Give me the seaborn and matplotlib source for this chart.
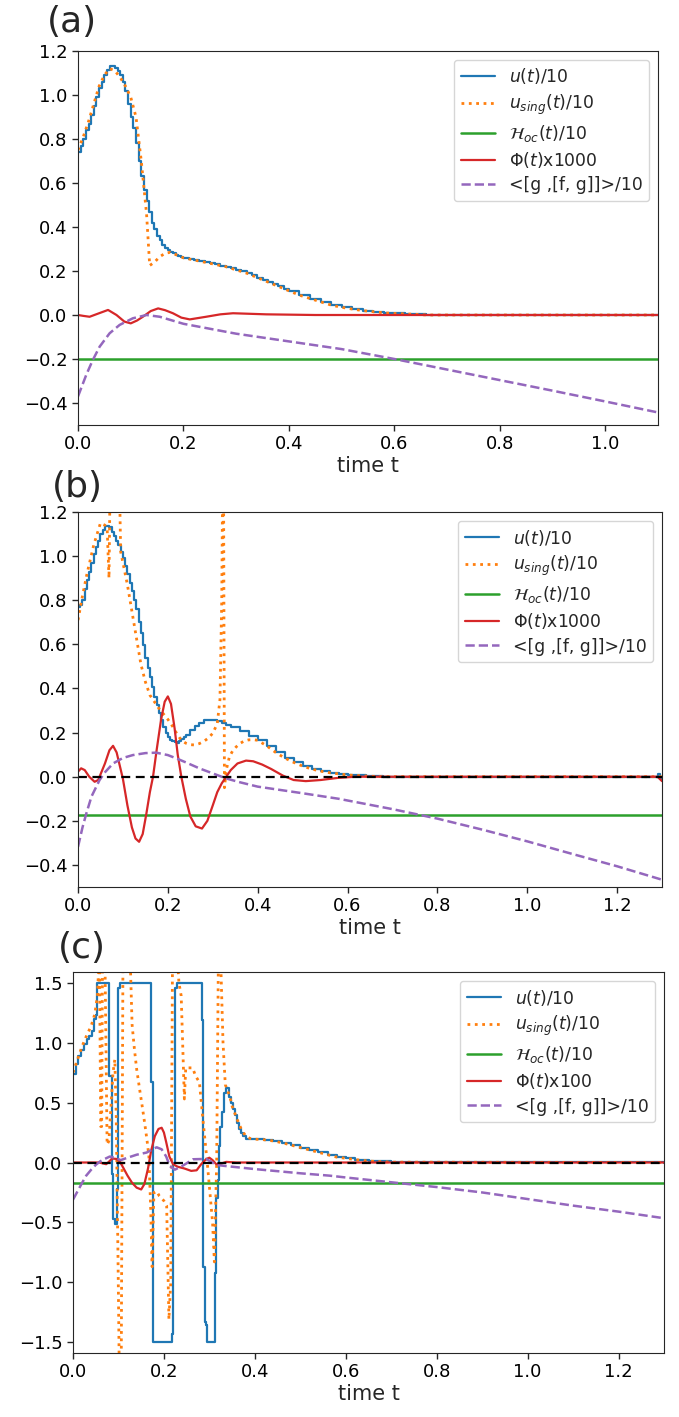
import matplotlib
matplotlib.use("Agg")
import matplotlib.pyplot as plt
import seaborn as sns

# ---------------------------------------------------------------- panel (a)
a_u_t = [0.000, 0.005, 0.010, 0.015, 0.020, 0.025, 0.030, 0.035, 0.040, 0.045,
         0.050, 0.055, 0.060, 0.065, 0.070, 0.075, 0.080, 0.085, 0.090, 0.095,
         0.100, 0.105, 0.110, 0.115, 0.120, 0.125, 0.130, 0.135, 0.140, 0.145,
         0.150, 0.155, 0.160, 0.165, 0.170, 0.175, 0.180, 0.185, 0.190, 0.195,
         0.200, 0.21, 0.22, 0.23, 0.24, 0.25, 0.26, 0.27, 0.28, 0.29, 0.30,
         0.31, 0.32, 0.33, 0.34, 0.35, 0.36, 0.37, 0.38, 0.39, 0.40, 0.42,
         0.44, 0.46, 0.48, 0.50, 0.52, 0.54, 0.56, 0.58, 0.60, 0.62, 0.64,
         0.66, 1.10]
a_u_v = [0.74, 0.77, 0.80, 0.84, 0.87, 0.91, 0.95, 0.99, 1.03, 1.06,
         1.09, 1.115, 1.13, 1.133, 1.125, 1.11, 1.09, 1.06, 1.02, 0.96,
         0.90, 0.85, 0.78, 0.70, 0.63, 0.57, 0.52, 0.47, 0.42, 0.39,
         0.36, 0.34, 0.32, 0.305, 0.295, 0.287, 0.28, 0.275, 0.27, 0.265,
         0.26, 0.255, 0.25, 0.245, 0.24, 0.235, 0.23, 0.225, 0.22, 0.213, 0.205,
         0.198, 0.19, 0.18, 0.17, 0.16, 0.15, 0.14, 0.13, 0.12, 0.11, 0.09,
         0.075, 0.06, 0.045, 0.035, 0.027, 0.02, 0.015, 0.01, 0.007, 0.005, 0.003,
         0.0, 0.0]

a_us_t = [0.00, 0.01, 0.02, 0.03, 0.04, 0.05, 0.06, 0.07, 0.08, 0.09, 0.10,
          0.11, 0.12, 0.13, 0.136, 0.145, 0.155, 0.165, 0.175, 0.19, 0.20,
          0.22, 0.24, 0.26, 0.28, 0.30, 0.32, 0.34, 0.36, 0.38, 0.40, 0.42,
          0.44, 0.46, 0.48, 0.50, 0.52, 0.54, 0.56, 0.58, 0.60, 0.62, 0.64, 0.66, 1.10]
a_us_v = [0.75, 0.81, 0.88, 0.96, 1.04, 1.09, 1.12, 1.11, 1.08, 1.04, 0.99,
          0.90, 0.70, 0.46, 0.225, 0.24, 0.265, 0.28, 0.285, 0.27, 0.26,
          0.25, 0.24, 0.23, 0.22, 0.205, 0.19, 0.17, 0.15, 0.13, 0.11, 0.09,
          0.075, 0.06, 0.045, 0.035, 0.027, 0.02, 0.015, 0.01, 0.007, 0.005, 0.003, 0.0, 0.0]

a_h_t = [0.0, 1.1]
a_h_v = [-0.2, -0.2]

a_phi_t = [0.00, 0.01, 0.022, 0.04, 0.057, 0.073, 0.088, 0.10, 0.112, 0.123,
           0.138, 0.152, 0.165, 0.18, 0.196, 0.212, 0.243, 0.27, 0.294, 0.357,
           0.45, 0.60, 1.10]
a_phi_v = [0.0, -0.004, -0.008, 0.008, 0.023, 0.0, -0.03, -0.038, -0.025, -0.008,
           0.018, 0.03, 0.022, 0.008, -0.012, -0.02, -0.008, 0.003, 0.008, 0.003,
           0.0, 0.0, 0.0]

a_gfg_t = [0.00, 0.016, 0.028, 0.041, 0.06, 0.079, 0.104, 0.13, 0.155, 0.20,
           0.30, 0.40, 0.50, 0.60, 0.70, 0.80, 0.90, 1.00, 1.10]
a_gfg_v = [-0.37, -0.27, -0.205, -0.144, -0.083, -0.045, -0.015, 0.0, -0.008,
           -0.04, -0.085, -0.12, -0.155, -0.20, -0.248, -0.296, -0.344, -0.393, -0.443]

# ---------------------------------------------------------------- panel (b)
b_u_t = [0.000, 0.005, 0.010, 0.015, 0.020, 0.025, 0.030, 0.035, 0.040, 0.045,
         0.050, 0.055, 0.060, 0.065, 0.070, 0.075, 0.080, 0.085, 0.090, 0.095,
         0.100, 0.105, 0.110, 0.115, 0.120, 0.125, 0.130, 0.135, 0.140, 0.145,
         0.150, 0.155, 0.160, 0.165, 0.170, 0.175, 0.180, 0.185, 0.190, 0.195,
         0.200, 0.205, 0.210, 0.215, 0.220, 0.225, 0.230, 0.235, 0.240, 0.25,
         0.26, 0.27, 0.28, 0.29, 0.30, 0.31, 0.32, 0.33, 0.34, 0.36, 0.38,
         0.40, 0.42, 0.44, 0.46, 0.48, 0.50, 0.52, 0.54, 0.56, 0.58, 0.60,
         0.64, 0.68, 1.28, 1.29, 1.295, 1.30]
b_u_v = [0.77, 0.78, 0.80, 0.85, 0.89, 0.93, 0.97, 1.01, 1.04, 1.07,
         1.10, 1.12, 1.135, 1.137, 1.13, 1.11, 1.09, 1.07, 1.05, 1.02,
         0.99, 0.955, 0.92, 0.88, 0.84, 0.80, 0.76, 0.70, 0.65, 0.595,
         0.54, 0.495, 0.45, 0.405, 0.36, 0.325, 0.29, 0.255, 0.225, 0.20,
         0.18, 0.168, 0.16, 0.156, 0.155, 0.16, 0.17, 0.18, 0.19, 0.21,
         0.23, 0.245, 0.255, 0.258, 0.258, 0.253, 0.245, 0.235, 0.225, 0.205, 0.185,
         0.165, 0.14, 0.11, 0.085, 0.065, 0.048, 0.035, 0.025, 0.018, 0.013, 0.008,
         0.003, 0.0, 0.0, 0.012, -0.01, -0.01]

b_us_t = [0.00, 0.01, 0.02, 0.035, 0.05, 0.06, 0.065, 0.069, 0.0715, 0.092,
          0.095, 0.10, 0.11, 0.12, 0.13, 0.14, 0.15, 0.16, 0.17, 0.18, 0.19,
          0.20, 0.21, 0.22, 0.23, 0.24, 0.25, 0.26, 0.27, 0.28, 0.29, 0.30,
          0.31, 0.316, 0.320, 0.322, 0.324, 0.326, 0.33, 0.337, 0.345, 0.352,
          0.36, 0.37, 0.38, 0.39, 0.40, 0.42, 0.44, 0.46, 0.48, 0.50, 0.52,
          0.54, 0.56, 0.58, 0.60, 0.64, 0.68, 1.30]
b_us_v = [0.71, 0.82, 0.92, 1.05, 1.15, 1.14, 1.12, 0.90, 1.35, 1.35,
          1.02, 0.97, 0.87, 0.75, 0.63, 0.51, 0.43, 0.37, 0.34, 0.31, 0.285,
          0.26, 0.23, 0.195, 0.165, 0.152, 0.145, 0.144, 0.15, 0.16, 0.175, 0.197,
          0.24, 0.35, 0.80, 1.35, 1.35, -0.05, 0.03, 0.09, 0.12, 0.135,
          0.15, 0.162, 0.167, 0.168, 0.165, 0.14, 0.11, 0.085, 0.065, 0.048, 0.035,
          0.025, 0.018, 0.013, 0.008, 0.003, 0.0, 0.0]

b_h_t = [0.0, 1.3]
b_h_v = [-0.175, -0.175]

b_phi_t = [0.00, 0.007, 0.015, 0.025, 0.037, 0.045, 0.052, 0.06, 0.07, 0.078,
           0.086, 0.093, 0.10, 0.11, 0.12, 0.128, 0.136, 0.144, 0.152, 0.16,
           0.167, 0.175, 0.185, 0.193, 0.20, 0.207, 0.215, 0.222, 0.23, 0.24,
           0.25, 0.262, 0.276, 0.288, 0.30, 0.31, 0.32, 0.33, 0.34, 0.355,
           0.374, 0.39, 0.41, 0.43, 0.456, 0.48, 0.507, 0.54, 0.58, 0.62,
           1.28, 1.29, 1.30]
b_phi_v = [0.023, 0.038, 0.03, 0.0, -0.023, -0.015, 0.02, 0.06, 0.12, 0.14,
           0.11, 0.05, -0.01, -0.13, -0.23, -0.28, -0.295, -0.26, -0.17, -0.07,
           0.0, 0.12, 0.26, 0.34, 0.364, 0.33, 0.22, 0.10, 0.0, -0.10,
           -0.18, -0.225, -0.235, -0.20, -0.13, -0.07, -0.03, 0.0, 0.03, 0.06,
           0.073, 0.07, 0.055, 0.035, 0.005, -0.015, -0.02, -0.015, -0.005, 0.0,
           0.0, 0.0, -0.02]

b_gfg_t = [0.00, 0.01, 0.0185, 0.03, 0.048, 0.06, 0.078, 0.10, 0.122, 0.15,
           0.174, 0.20, 0.219, 0.24, 0.27, 0.30, 0.33, 0.36, 0.40, 0.50,
           0.58, 0.70, 0.80, 0.90, 1.00, 1.10, 1.20, 1.30]
b_gfg_v = [-0.318, -0.23, -0.167, -0.09, -0.015, 0.02, 0.06, 0.085, 0.098, 0.107,
           0.109, 0.098, 0.083, 0.065, 0.038, 0.015, -0.008, -0.025, -0.045, -0.075,
           -0.10, -0.147, -0.19, -0.24, -0.293, -0.35, -0.406, -0.467]

# ---------------------------------------------------------------- panel (c)
c_u_t = [0.000, 0.006, 0.012, 0.018, 0.024, 0.030, 0.036, 0.042, 0.046, 0.050,
         0.053, 0.080, 0.085, 0.089, 0.092, 0.096, 0.100, 0.103, 0.172, 0.1766,
         0.217, 0.219, 0.224, 0.228, 0.283, 0.285, 0.287, 0.290, 0.292, 0.294,
         0.312, 0.315, 0.318, 0.321, 0.324, 0.328, 0.332, 0.336, 0.344, 0.348,
         0.352, 0.356, 0.360, 0.365, 0.370, 0.375, 0.380, 0.390, 0.400, 0.420,
         0.440, 0.460, 0.480, 0.500, 0.520, 0.540, 0.560, 0.580, 0.600, 0.620,
         0.650, 0.700, 1.300]
c_u_v = [0.74, 0.82, 0.89, 0.94, 0.99, 1.03, 1.06, 1.10, 1.20, 1.23,
         1.50, 0.72, -0.10, -0.47, -0.51, -0.22, 1.46, 1.50, 0.67, -1.50,
         -1.43, 0.0, 1.46, 1.50, 1.19, 0.03, -0.87, -1.33, -1.36, -1.50,
         -0.92, -0.30, -0.15, 0.14, 0.30, 0.42, 0.58, 0.62, 0.55, 0.50,
         0.45, 0.40, 0.33, 0.28, 0.25, 0.22, 0.20, 0.197, 0.195, 0.19,
         0.18, 0.165, 0.145, 0.125, 0.105, 0.085, 0.065, 0.045, 0.035, 0.025,
         0.012, 0.003, 0.0]

c_us_t = [0.000, 0.010, 0.020, 0.030, 0.040, 0.048, 0.054, 0.058, 0.061, 0.063,
          0.065, 0.070, 0.075, 0.079, 0.084, 0.088, 0.092, 0.095, 0.099, 0.102,
          0.106, 0.110, 0.125, 0.130, 0.135, 0.140, 0.147, 0.153, 0.158, 0.163,
          0.167, 0.171, 0.174, 0.178, 0.184, 0.190, 0.200, 0.206, 0.211, 0.215,
          0.219, 0.228, 0.233, 0.238, 0.245, 0.248, 0.263, 0.270, 0.278, 0.285,
          0.296, 0.307, 0.311, 0.316, 0.320, 0.324, 0.330, 0.335, 0.340, 0.345,
          0.350, 0.360, 0.370, 0.380, 0.390, 0.400, 0.420, 0.440, 0.460, 0.480,
          0.500, 0.520, 0.540, 0.560, 0.580, 0.600, 0.620, 0.650, 0.700, 1.300]
c_us_v = [0.75, 0.86, 0.97, 1.06, 1.14, 1.24, 1.40, 1.80, 0.30, 0.30,
          1.80, 1.80, 0.15, 0.18, 0.50, 0.75, 0.86, 0.40, -0.80, -1.80,
          -1.80, 1.80, 1.80, 1.15, 0.95, 0.78, 0.60, 0.45, 0.32, 0.18,
          0.05, -0.40, -0.87, -0.25, -0.24, -0.28, -0.32, -0.36, -1.31, -1.00,
          1.80, 1.80, 1.50, 1.39, 0.53, 0.79, 0.79, 0.72, 0.67, 0.39,
          -0.03, -0.50, -0.83, 0.00, 1.80, 1.80, 1.00, 0.65, 0.60, 0.55,
          0.47, 0.37, 0.28, 0.22, 0.20, 0.195, 0.19, 0.18, 0.165, 0.145,
          0.125, 0.105, 0.085, 0.065, 0.045, 0.035, 0.025, 0.012, 0.003, 0.0]

c_h_t = [0.0, 1.3]
c_h_v = [-0.17, -0.17]

c_phi_t = [0.000, 0.050, 0.058, 0.066, 0.073, 0.080, 0.086, 0.095, 0.102, 0.110,
           0.120, 0.130, 0.140, 0.150, 0.157, 0.165, 0.172, 0.180, 0.188, 0.195,
           0.200, 0.205, 0.212, 0.220, 0.230, 0.245, 0.260, 0.272, 0.282, 0.292,
           0.300, 0.307, 0.315, 0.325, 0.337, 0.360, 0.400, 1.300]
c_phi_v = [0.0, 0.0, 0.0, -0.008, -0.014, 0.01, 0.033, 0.03, 0.014, -0.04,
           -0.11, -0.17, -0.21, -0.225, -0.18, -0.05, 0.10, 0.22, 0.28, 0.29,
           0.25, 0.17, 0.05, -0.014, -0.035, -0.05, -0.07, -0.065, -0.014, 0.025,
           0.04, 0.02, -0.014, -0.01, 0.005, 0.0, 0.0, 0.0]

c_gfg_t = [0.000, 0.010, 0.020, 0.029, 0.040, 0.050, 0.060, 0.070, 0.081, 0.090,
           0.096, 0.105, 0.120, 0.140, 0.162, 0.175, 0.184, 0.195, 0.205, 0.213,
           0.224, 0.240, 0.264, 0.293, 0.315, 0.337, 0.400, 0.500, 0.565, 0.600,
           0.700, 0.800, 0.900, 1.000, 1.100, 1.200, 1.300]
c_gfg_v = [-0.31, -0.24, -0.17, -0.11, -0.06, -0.02, 0.01, 0.03, 0.05, 0.04,
           0.033, 0.02, 0.04, 0.065, 0.083, 0.11, 0.127, 0.11, 0.05, -0.03,
           -0.06, -0.03, 0.027, 0.03, -0.02, -0.03, -0.055, -0.09, -0.11, -0.125,
           -0.165, -0.205, -0.25, -0.305, -0.36, -0.41, -0.465]

labels = [r"$u(t)$/10", r"$u_{sing}(t)$/10", r"$\mathcal{H}_{oc}(t)$/10",
          None, "<[g ,[f, g]]>/10"]

# ---------------------------------------------------------------- drawing
sns.set_style("ticks")
plt.rcParams["font.family"] = ["DejaVu Sans"]
plt.rcParams["axes.edgecolor"] = "0.15"
plt.rcParams["xtick.color"] = "0.15"
plt.rcParams["ytick.color"] = "0.15"
plt.rcParams["xtick.labelcolor"] = "black"
plt.rcParams["ytick.labelcolor"] = "black"

W, H = 679, 1417
fig = plt.figure(figsize=(W / 100, H / 100), dpi=100)
pal = sns.color_palette("tab10")


def panel(box, data, phi_label, xlim, ylim, yticks, xticks, zero_line):
    l, t, r, b = box
    ax = fig.add_axes([l / W, 1 - b / H, (r - l) / W, (b - t) / H])
    (ut, uv), (st, sv), (ht, hv), (pt, pv), (gt, gv) = data
    kw = dict(ax=ax, estimator=None, sort=False)
    sns.lineplot(x=ut, y=uv, color=pal[0], lw=1.6, drawstyle="steps-post",
                 label=labels[0], **kw)
    sns.lineplot(x=st, y=sv, color=pal[1], lw=2.0, linestyle=":",
                 label=labels[1], **kw)
    sns.lineplot(x=ht, y=hv, color=pal[2], lw=1.8, label=labels[2], **kw)
    sns.lineplot(x=pt, y=pv, color=pal[3], lw=1.6, label=phi_label, **kw)
    sns.lineplot(x=gt, y=gv, color=pal[4], lw=1.8, linestyle="--",
                 label=labels[4], **kw)
    if zero_line:
        ax.axhline(0, color="black", lw=1.6, ls="--", dashes=(4, 2.5))
    ax.set_xlim(*xlim)
    ax.set_ylim(*ylim)
    ax.set_xticks(xticks)
    ax.set_yticks(yticks)
    ax.tick_params(labelsize=13, length=4, width=1)
    ax.set_xlabel("time t", fontsize=15, labelpad=2)
    ax.set_ylabel("")
    ax.legend(loc="upper right", fontsize=12.4, framealpha=0.8,
              labelspacing=0.36)
    return ax


panel((78, 51, 658, 425),
      [(a_u_t, a_u_v), (a_us_t, a_us_v), (a_h_t, a_h_v),
       (a_phi_t, a_phi_v), (a_gfg_t, a_gfg_v)],
      r"$\Phi(t)$x1000", (0, 1.1), (-0.5, 1.2),
      [-0.4, -0.2, 0.0, 0.2, 0.4, 0.6, 0.8, 1.0, 1.2],
      [0.0, 0.2, 0.4, 0.6, 0.8, 1.0], False)

panel((78, 512, 662, 887),
      [(b_u_t, b_u_v), (b_us_t, b_us_v), (b_h_t, b_h_v),
       (b_phi_t, b_phi_v), (b_gfg_t, b_gfg_v)],
      r"$\Phi(t)$x1000", (0, 1.3), (-0.5, 1.2),
      [-0.4, -0.2, 0.0, 0.2, 0.4, 0.6, 0.8, 1.0, 1.2],
      [0.0, 0.2, 0.4, 0.6, 0.8, 1.0, 1.2], True)

panel((73, 972, 664, 1353),
      [(c_u_t, c_u_v), (c_us_t, c_us_v), (c_h_t, c_h_v),
       (c_phi_t, c_phi_v), (c_gfg_t, c_gfg_v)],
      r"$\Phi(t)$x100", (0, 1.3), (-1.59, 1.59),
      [-1.5, -1.0, -0.5, 0.0, 0.5, 1.0, 1.5],
      [0.0, 0.2, 0.4, 0.6, 0.8, 1.0, 1.2], True)

for txt, x, y in [("(a)", 47, 32), ("(b)", 52, 497), ("(c)", 58, 958)]:
    fig.text(x / W, 1 - y / H, txt, fontsize=26, va="baseline", ha="left")

fig.savefig("out.png", dpi=100)
